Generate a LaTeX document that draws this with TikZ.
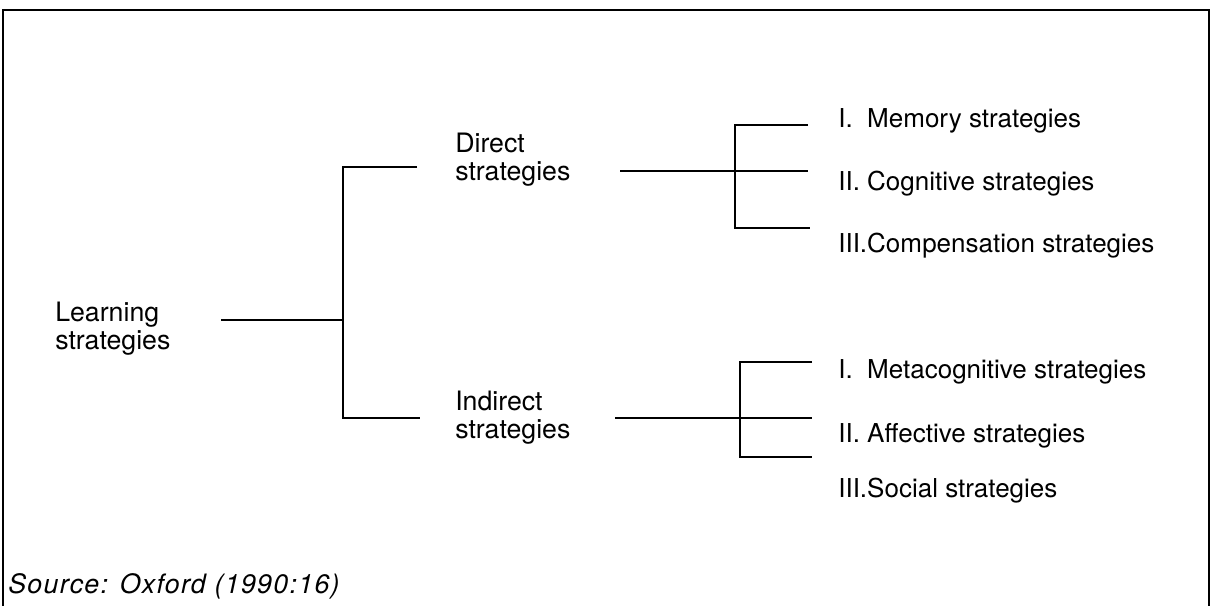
\documentclass[tikz,border=0pt]{standalone}
\usepackage{fontspec}
\setmainfont{TeX Gyre Heros}
\usetikzlibrary{positioning}

\begin{document}
\begin{tikzpicture}[
  x=0.025cm, y=-0.025cm,
  font=\fontsize{19}{20}\selectfont,
  every node/.style={anchor=west, inner sep=0pt},
  twoline/.style={align=left},
  item/.style={font=\fontsize{18.5}{20}\selectfont},
  branch/.style={draw, line width=1.4pt},
  frame/.style={draw, line width=1.3pt},
  source/.style={font=\fontsize{19}{20}\selectfont\itshape\addfontfeature{LetterSpace=5}}
]
\useasboundingbox (0,0) rectangle (1213,606);

% Frame (open at the bottom)
\draw[frame] (3,606) -- (3,10) -- (1209,10) -- (1209,606);

% Labels
\node[twoline] (learn) at (55,329) {Learning\\strategies};
\node[twoline] (direct) at (455,160) {Direct\\strategies};
\node[twoline] (indirect) at (455,418) {Indirect\\strategies};

\node[item] (memory) at (838,121) {I.\ \ Memory strategies};
\node[item] (cognitive) at (838,184) {II. Cognitive strategies};
\node[item] (compens) at (838,246) {III.Compensation strategies};
\node[item] (metacog) at (838,372) {I.\ \ Metacognitive strategies};
\node[item] (affective) at (838,436) {II. Affective strategies};
\node[item] (social) at (838,491) {III.Social strategies};

\node[source] (src) at (8,586) {Source: Oxford (1990:16)};

% Fork points
\coordinate (learnout) at (221,320);
\coordinate (forkA) at (343,320);
\coordinate (forkAtop) at (343,167);
\coordinate (forkAbot) at (343,418);
\coordinate (directin) at (417,167);
\coordinate (indirectin) at (420,418);

\coordinate (directout) at (620,171);
\coordinate (forkB) at (735,171);
\coordinate (forkBtop) at (735,125);
\coordinate (forkBbot) at (735,228);

\coordinate (indirectout) at (615,418);
\coordinate (forkC) at (740,418);
\coordinate (forkCtop) at (740,362);
\coordinate (forkCbot) at (740,457);

% Brackets
\draw[branch] (learnout) -- (forkA);
\draw[branch] (directin) -- (forkAtop) -- (forkAbot) -- (indirectin);

\draw[branch] (directout) -- (forkB) -- (forkB -| 808,0);
\draw[branch] (808,125) -- (forkBtop) -- (forkBbot) -- (810,228);

\draw[branch] (indirectout) -- (forkC) -- (forkC -| 812,0);
\draw[branch] (812,362) -- (forkCtop) -- (forkCbot) -- (812,457);

\end{tikzpicture}
\end{document}
